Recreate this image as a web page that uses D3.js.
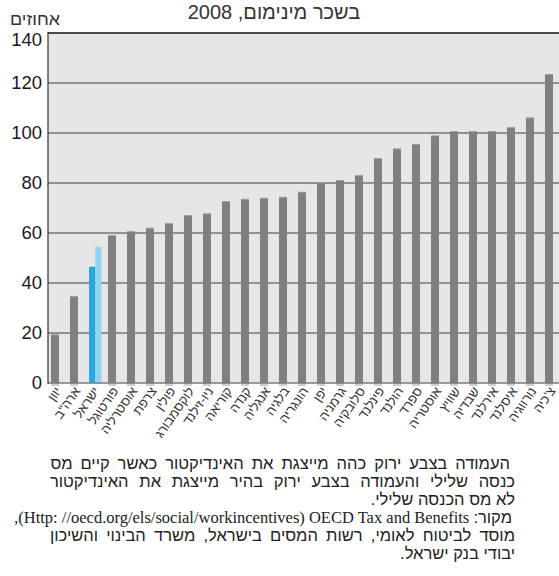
<!DOCTYPE html>
<html><head><meta charset="utf-8">
<script src="https://cdn.jsdelivr.net/npm/d3@7/dist/d3.min.js"></script>
<style>body{margin:0;background:#fff;overflow:hidden} svg{display:block}</style>
</head><body><div id="chart"></div>
<script>
const categories = ["יוון","ארה\"ב","ישראל","פורטוגל","אוסטרליה","צרפת","פולין","לוקסמבורג","ניו-זילנד","קוריאה","קנדה","אנגליה","בלגיה","הונגריה","יפן","גרמניה","סלובקיה","פינלנד","הולנד","ספרד","אוסטריה","שוויץ","שבדיה","אירלנד","איסלנד","נורווגיה","צ'כיה"];
const values = [19.5, 34.8, 46.5, 59.2, 60.8, 62.1, 64.0, 67.2, 67.9, 72.8, 73.7, 74.1, 74.5, 76.5, 80.4, 81.2, 83.2, 90.0, 93.9, 95.6, 99.1, 100.8, 100.8, 100.8, 102.4, 106.3, 123.6];
const highlight = "ישראל";
const highlightNoNIT = 54.5;
const yTicks = [0, 20, 40, 60, 80, 100, 120, 140];
const title = "בשכר מינימום, 2008";
const yLabel = "אחוזים";
const noteLines = [
  "העמודה בצבע ירוק  כהה מייצגת את האינדיקטור כאשר קיים מס",
  "כנסה שלילי והעמודה בצבע ירוק בהיר מייצגת את האינדיקטור",
  "לא מס הכנסה שלילי.",
  null,
  "מוסד לביטוח לאומי, רשות המסים בישראל, משרד הבינוי והשיכון",
  "יבודי בנק ישראל."
];
const sourceHeb = "מקור";
const sourceLatin = "(Http: //oecd.org/els/social/workincentives) OECD Tax and Benefits ";

const W = 559, H = 576;
const RLM = "\u200F";
const sans = "'Liberation Sans', Arial, 'DejaVu Sans', sans-serif";
const serif = "'Liberation Serif', 'Times New Roman', serif";

const svg = d3.select("#chart").append("svg").attr("width", W).attr("height", H);
const P = {left: 48, right: W + 2, top: 33, bottom: 383};

const y = d3.scaleLinear().domain([0, 140]).range([P.bottom, P.top]);
const x = d3.scaleBand().domain(categories).range([45.5, 558.5]).paddingInner(0.58).paddingOuter(0.29);

// background
svg.append("rect").attr("x", P.left).attr("y", P.top).attr("width", P.right - P.left).attr("height", P.bottom - P.top).attr("fill", "#e6e6e6");

// gridlines
svg.append("g").selectAll("line").data(yTicks.filter(t => t > 0 && t < 140)).join("line")
  .attr("x1", P.left).attr("x2", P.right).attr("y1", d => y(d)).attr("y2", d => y(d))
  .attr("stroke", "#3a3a3a").attr("stroke-width", 1.2);

// bars
const bars = svg.append("g");
categories.forEach((c, i) => {
  const v = values[i];
  const bx = x(c), bw = x.bandwidth();
  if (c === highlight) {
    const w1 = 6.4, w2 = 6;
    bars.append("rect").attr("x", bx).attr("y", y(v)).attr("width", w1).attr("height", y(0) - y(v)).attr("fill", "#29a6de");
    bars.append("rect").attr("x", bx + w1).attr("y", y(highlightNoNIT)).attr("width", w2).attr("height", y(0) - y(highlightNoNIT)).attr("fill", "#90d4f4");
  } else {
    bars.append("rect").attr("x", bx).attr("y", y(0)).attr("width", bw).attr("height", 3).attr("fill", "#cfcfcf");
    bars.append("rect").attr("x", bx).attr("y", y(v)).attr("width", bw).attr("height", y(0) - y(v)).attr("fill", "#a3a3a3");
    bars.append("rect").attr("x", bx).attr("y", y(v) + 1).attr("width", bw).attr("height", y(0) - y(v) - 1).attr("fill", "#808080");
  }
});

// axes frame
svg.append("line").attr("x1", P.left).attr("x2", P.right).attr("y1", P.top).attr("y2", P.top).attr("stroke", "#4a4a4a").attr("stroke-width", 2);
svg.append("line").attr("x1", P.left).attr("x2", P.right).attr("y1", P.bottom).attr("y2", P.bottom).attr("stroke", "#7a7a7a").attr("stroke-width", 1.6);
svg.append("line").attr("x1", P.left).attr("x2", P.left).attr("y1", P.top - 1).attr("y2", P.bottom + 1).attr("stroke", "#333").attr("stroke-width", 1.2);

// y tick labels
svg.append("g").selectAll("text").data(yTicks).join("text")
  .attr("x", 42).attr("y", d => y(d) + 6 + (d === 140 ? 7 : 0))
  .attr("text-anchor", "end").attr("font-family", sans).attr("font-size", 18.5).attr("fill", "#1a1a1a")
  .text(d => d);

// y label
svg.append("text").attr("x", 60).attr("y", 25).attr("text-anchor", "end").attr("font-family", sans)
  .attr("font-size", 17).attr("textLength", 50).attr("lengthAdjust", "spacingAndGlyphs").attr("fill", "#333").text(yLabel);

// title
svg.append("text").attr("x", 274).attr("y", 19).attr("text-anchor", "middle").attr("font-family", sans)
  .attr("font-size", 20).attr("fill", "#333").text(RLM + title + RLM);

// x labels
svg.append("g").selectAll("text").data(categories).join("text")
  .attr("transform", d => `translate(${x(d) + x.bandwidth() / 2 + 7},${391}) rotate(-55)`)
  .attr("text-anchor", "end").attr("font-family", sans).attr("font-size", 13).attr("fill", "#333")
  .text(d => RLM + d + RLM);

// notes (justified lines stretched through word spacing)
const justify = [[47, 510], [50, 515], null, null, [50, 515], null];
const notesG = svg.append("g").attr("font-family", sans).attr("font-size", 16.5).attr("fill", "#222");
noteLines.forEach((t, i) => {
  if (t === null) return;
  const right = justify[i] ? justify[i][1] : 515;
  const el = notesG.append("text").attr("x", right).attr("y", 469 + i * 18).attr("text-anchor", "end").text(RLM + t + RLM);
  if (justify[i]) {
    const natural = el.node().getComputedTextLength();
    const spaces = (t.match(/ /g) || []).length;
    const extra = (justify[i][1] - justify[i][0] - natural) / spaces;
    el.style("word-spacing", extra + "px");
  }
});
const src = notesG.append("text").attr("x", 512).attr("y", 469 + 3 * 18).attr("text-anchor", "end").attr("direction", "ltr");
src.append("tspan").attr("font-family", serif).attr("font-size", 16.5).text("," + sourceLatin);
src.append("tspan").text(":" + sourceHeb);
</script>
</body></html>
